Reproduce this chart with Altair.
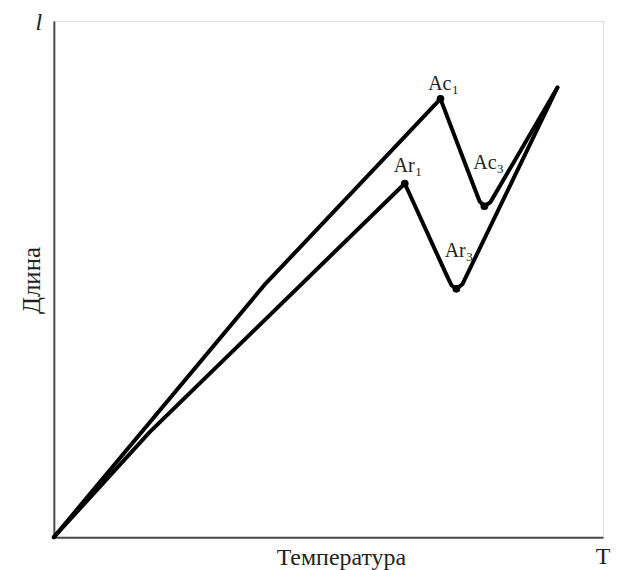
import altair as alt
import pandas as pd

# Heating curve (nagrev) — temperature vs length
heat_T = [0.0, 38.3, 70.4, 76.6, 77.5, 78.4, 79.5, 91.7]
heat_L = [0.0, 48.8, 84.9, 67.6, 65.1, 64.1, 64.9, 87.1]

# Cooling curve (okhlazhdenie)
cool_T = [0.0, 17.4, 63.9, 71.5, 72.4, 73.3, 74.4, 91.7]
cool_L = [0.0, 20.3, 68.5, 50.8, 48.8, 48.1, 49.0, 87.1]

# Critical points (markers)
crit_T = [70.4, 78.4, 63.9, 73.3]
crit_L = [84.9, 64.1, 68.5, 48.1]

# Critical point labels: base letters + subscripts, anchored at their junction
lab_T = [72.4, 80.6, 65.7, 75.0]
lab_L = [86.7, 71.4, 70.7, 54.2]
lab_base = ["Ac", "Ac", "Ar", "Ar"]
lab_sub = ["1", "3", "1", "3"]

curves = pd.DataFrame({
    "T": heat_T + cool_T,
    "L": heat_L + cool_L,
    "curve": ["нагрев"] * len(heat_T) + ["охлаждение"] * len(cool_T),
})
crit = pd.DataFrame({"T": crit_T, "L": crit_L})
labels = pd.DataFrame({"T": lab_T, "L": lab_L, "base": lab_base, "sub": lab_sub})
corner = pd.DataFrame({"T": [100.0, 0.0], "L": [0.0, 100.0], "t": ["T", "l"]})

SERIF = "Liberation Serif"

xs = alt.Scale(domain=[0, 100], nice=False, zero=False)
ys = alt.Scale(domain=[0, 100], nice=False, zero=False)

x_axis = alt.Axis(
    title="Температура", labels=False, ticks=False, grid=False,
    domainColor="#4a4a4a", domainWidth=2,
    titleFont=SERIF, titleFontSize=24, titleFontWeight="normal", titleColor="#222",
    titleX=288, titleY=27, titleBaseline="alphabetic", titleAlign="center",
)
y_axis = alt.Axis(
    title="Длина", labels=False, ticks=False, grid=False,
    domainColor="#4a4a4a", domainWidth=2,
    titleFont=SERIF, titleFontSize=25, titleFontWeight="normal", titleColor="#222",
    titleX=-22, titleY=260, titleBaseline="middle", titleAlign="center", titleAngle=-90,
)

base = alt.Chart(curves)

lines = base.mark_line(color="black", strokeWidth=4, strokeJoin="round", strokeCap="round").encode(
    x=alt.X("T:Q", scale=xs, axis=x_axis),
    y=alt.Y("L:Q", scale=ys, axis=y_axis),
    detail="curve:N",
)

dots = alt.Chart(crit).mark_circle(color="black", size=60, opacity=1).encode(
    x=alt.X("T:Q", scale=xs), y=alt.Y("L:Q", scale=ys)
)

lab_main = alt.Chart(labels).mark_text(
    font=SERIF, fontSize=20, align="right", baseline="alphabetic", color="#222"
).encode(x=alt.X("T:Q", scale=xs), y=alt.Y("L:Q", scale=ys), text="base:N")

lab_subs = alt.Chart(labels).mark_text(
    font=SERIF, fontSize=13, align="left", baseline="alphabetic", dy=4, dx=0.5, color="#222"
).encode(x=alt.X("T:Q", scale=xs), y=alt.Y("L:Q", scale=ys), text="sub:N")

t_lab = alt.Chart(corner[corner.t == "T"]).mark_text(
    font=SERIF, fontSize=24, align="center", baseline="alphabetic", dy=27, color="#222"
).encode(x=alt.X("T:Q", scale=xs), y=alt.Y("L:Q", scale=ys), text="t:N")

l_lab = alt.Chart(corner[corner.t == "l"]).mark_text(
    font=SERIF, fontSize=24, fontStyle="italic", align="center", baseline="alphabetic",
    dx=-15, dy=9, color="#222"
).encode(x=alt.X("T:Q", scale=xs), y=alt.Y("L:Q", scale=ys), text="t:N")

chart = alt.layer(lines, dots, lab_main, lab_subs, t_lab, l_lab).properties(
    width=551, height=518,
    autosize=alt.AutoSizeParams(type="none"),
    padding={"left": 46, "top": 12, "right": 8, "bottom": 40},
).configure_view(stroke=None).configure(background="white")

chart.save("out.html", embed_options={"renderer": "svg", "actions": False})
